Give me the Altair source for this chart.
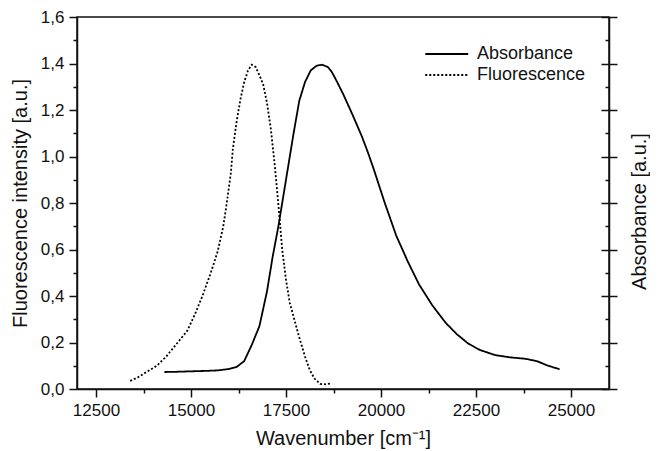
import altair as alt
import pandas as pd

# Absorbance spectrum (wavenumber cm^-1, a.u.)
ABS_X = [14300, 14600, 15000, 15400, 15700, 16000, 16200, 16400, 16600, 16800,
         17000, 17150, 17300, 17450, 17550, 17700, 17850, 18000, 18150, 18300,
         18450, 18600, 18700, 18800, 19000, 19250, 19500, 19650, 19800, 20100,
         20400, 20700, 21000, 21350, 21700, 22000, 22300, 22600, 23000, 23400,
         23800, 24100, 24400, 24700]
ABS_Y = [0.073, 0.074, 0.076, 0.078, 0.080, 0.086, 0.095, 0.12, 0.19, 0.27,
         0.42, 0.57, 0.70, 0.85, 0.95, 1.10, 1.24, 1.32, 1.37, 1.39,
         1.395, 1.385, 1.365, 1.335, 1.27, 1.18, 1.085, 1.02, 0.95, 0.80,
         0.66, 0.55, 0.45, 0.36, 0.285, 0.235, 0.195, 0.168, 0.146, 0.136,
         0.130, 0.12, 0.10, 0.085]

# Fluorescence spectrum
FLU_X = [13400, 13600, 13850, 14100, 14350, 14600, 14900, 15100, 15300, 15500,
         15700, 15850, 15950, 16050, 16100, 16200, 16300, 16400, 16500, 16600,
         16700, 16800, 16900, 17000, 17100, 17200, 17290, 17400, 17500, 17600,
         17750, 17870, 18000, 18130, 18250, 18400, 18550, 18700]
FLU_Y = [0.035, 0.05, 0.075, 0.10, 0.14, 0.19, 0.25, 0.32, 0.40, 0.49,
         0.59, 0.70, 0.81, 0.93, 1.03, 1.15, 1.245, 1.32, 1.37, 1.395,
         1.385, 1.35, 1.31, 1.23, 1.12, 0.97, 0.81, 0.60, 0.47, 0.37,
         0.28, 0.21, 0.14, 0.08, 0.045, 0.022, 0.02, 0.025]

SERIES = ["Absorbance", "Fluorescence"]
X_MAJOR = [12500, 15000, 17500, 20000, 22500, 25000]
X_MINOR = [13750, 16250, 18750, 21250, 23750]
Y_MAJOR = [0.0, 0.2, 0.4, 0.6, 0.8, 1.0, 1.2, 1.4, 1.6]
Y_MINOR = [0.1, 0.3, 0.5, 0.7, 0.9, 1.1, 1.3, 1.5]

df = pd.concat([
    pd.DataFrame({"wn": ABS_X, "val": ABS_Y, "series": SERIES[0]}),
    pd.DataFrame({"wn": FLU_X, "val": FLU_Y, "series": SERIES[1]}),
])

FONT = "Liberation Sans"
xs = alt.Scale(domain=[12000, 26000], nice=False, zero=False)
ys = alt.Scale(domain=[0, 1.6], nice=False, zero=False)

base = alt.Chart(df)

main = base.mark_line(strokeWidth=1.8, color="black").encode(
    x=alt.X("wn:Q", scale=xs, axis=alt.Axis(
        orient="bottom", values=X_MAJOR, format="d", tickSize=8, labelPadding=5,
        labelFontSize=17, title="Wavenumber [cm⁻¹]", titleFontSize=20,
        titleFontWeight="normal", titleX=266, titleY=55, titleBaseline="alphabetic",
        titleAlign="center")),
    y=alt.Y("val:Q", scale=ys, axis=alt.Axis(
        orient="left", values=Y_MAJOR, tickSize=8, labelPadding=5, labelFontSize=17,
        labelExpr="replace(format(datum.value, '.1f'), '.', ',')",
        title="Fluorescence intensity [a.u.]", titleFontSize=20, titleFontWeight="normal",
        titleX=-57, titleY=186, titleAngle=270, titleBaseline="middle", titleAlign="center")),
    strokeDash=alt.StrokeDash("series:N", scale=alt.Scale(domain=SERIES, range=[[1, 0], [2, 2]]),
        legend=alt.Legend(title=None, orient="none", legendX=347, legendY=25,
                          symbolType="M-1,0H3", symbolSize=462, symbolStrokeWidth=1.8,
                          symbolStrokeColor="black", symbolOffset=0, labelOffset=29,
                          labelFontSize=18, labelFont=FONT, labelColor="#111",
                          rowPadding=0, padding=0)),
    detail="series:N",
)

def ghost(xaxis, yaxis):
    return base.mark_line(opacity=0).encode(
        x=alt.X("wn:Q", scale=xs, axis=xaxis),
        y=alt.Y("val:Q", scale=ys, axis=yaxis),
        detail="series:N",
    )

minor_lb = ghost(
    alt.Axis(orient="bottom", values=X_MINOR, ticks=True, tickSize=4, labels=False,
             domain=False, title=None),
    alt.Axis(orient="left", values=Y_MINOR, ticks=True, tickSize=4, labels=False,
             domain=False, title=None),
)
right_out = ghost(
    None,
    alt.Axis(orient="right", values=Y_MAJOR, ticks=True, tickSize=8, labels=False, domain=True,
             title="Absorbance [a.u.]", titleFontSize=20, titleFontWeight="normal",
             titleX=30, titleY=194, titleAngle=270, titleBaseline="middle", titleAlign="center"),
)
right_in = ghost(
    None,
    alt.Axis(orient="right", values=Y_MAJOR, ticks=True, tickSize=8, offset=-8, labels=False,
             domain=False, title=None),
)
right_minor = ghost(
    None,
    alt.Axis(orient="right", values=Y_MINOR, ticks=True, tickSize=4, offset=-4, labels=False,
             domain=False, title=None),
)

chart = alt.layer(main, minor_lb, right_out, right_in, right_minor).resolve_scale(
    x="independent", y="independent"
).properties(
    width=532, height=372,
    background="white",
    autosize=alt.AutoSizeParams(type="none"),
    padding={"left": 69, "top": 9, "right": 41, "bottom": 62},
).configure_view(
    stroke="#111", strokeWidth=1.5
).configure_axis(
    domainColor="#111", tickColor="#111", labelColor="#111", titleColor="#111",
    labelFont=FONT, titleFont=FONT, grid=False, domainWidth=1.5, tickWidth=1.5,
    labelFlush=False, labelOverlap=False, tickOpacity=1, domainOpacity=1,
)

chart.save("out.html", embed_options={"renderer": "svg", "actions": False})
